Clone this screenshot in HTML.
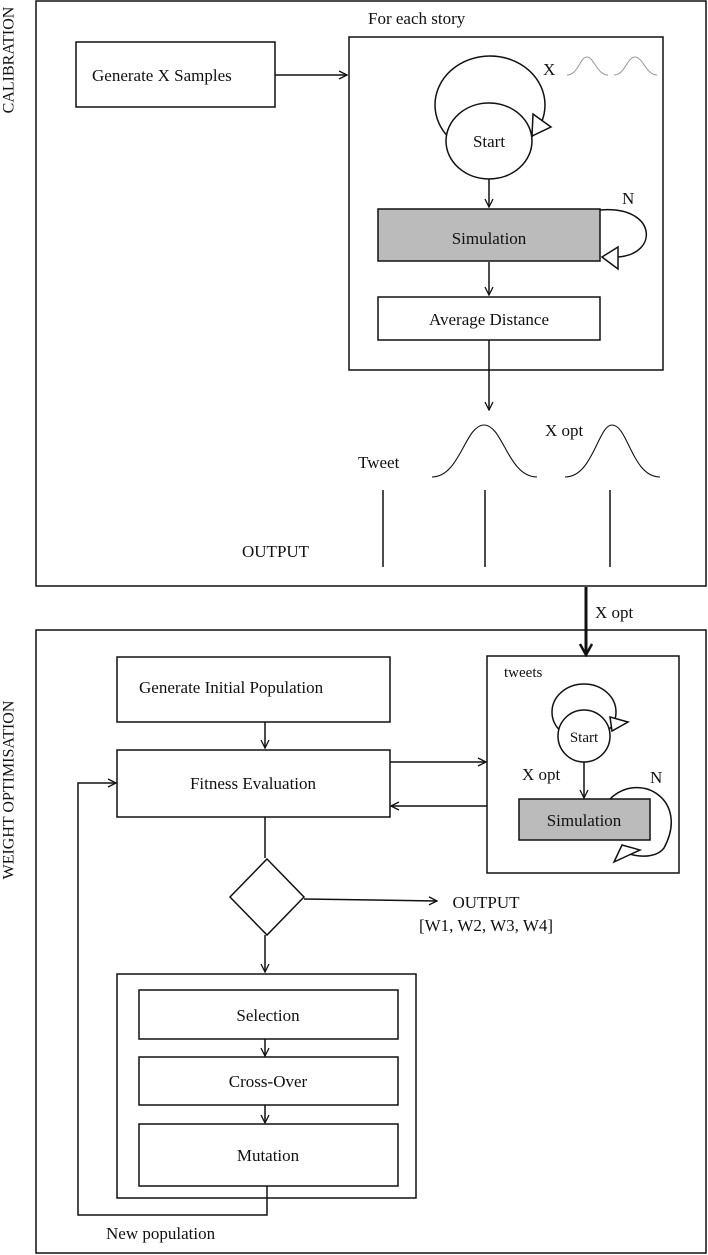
<!DOCTYPE html>
<html><head><meta charset="utf-8"><style>body{margin:0;background:#fff}svg{display:block}text{font-family:"Liberation Serif",serif;fill:#111}</style></head><body>
<svg width="708" height="1255" viewBox="0 0 708 1255" xmlns="http://www.w3.org/2000/svg">
<defs>
<marker id="a" markerWidth="10" markerHeight="10" refX="9" refY="5" orient="auto" markerUnits="userSpaceOnUse"><path d="M1,1 L9,5 L1,9" fill="none" stroke="#111" stroke-width="1.3"/></marker>
<marker id="b" markerWidth="14" markerHeight="14" refX="12" refY="7" orient="auto" markerUnits="userSpaceOnUse"><path d="M1,1 L12,7 L1,13" fill="none" stroke="#111" stroke-width="2.5"/></marker>
</defs>
<g fill="none" stroke="#111" stroke-width="1.5">
<rect x="36" y="1" width="670" height="585"/>
<rect x="36" y="630" width="670" height="623"/>
<rect x="76" y="42" width="199" height="65"/>
<line x1="275" y1="75" x2="347" y2="75" marker-end="url(#a)"/>
<rect x="349" y="37" width="314" height="333"/>
<ellipse cx="490" cy="105" rx="55" ry="49"/>
<ellipse cx="489" cy="141" rx="43" ry="38" fill="#fff"/>
<path d="M533,114 L551,127 L532,136 Z" fill="#fff"/>
<line x1="489" y1="179" x2="489" y2="207" marker-end="url(#a)"/>
<rect x="378" y="209" width="222" height="52" fill="#bbb"/>
<path d="M600,210 C660,205 660,260 610,257"/>
<path d="M602,257 L618,247 L618,269 Z" fill="#fff"/>
<line x1="489" y1="262" x2="489" y2="295" marker-end="url(#a)"/>
<rect x="378" y="297" width="222" height="43"/>
<line x1="489" y1="340" x2="489" y2="410" marker-end="url(#a)"/>
<path d="M432,477 C460,477 465,425 484,425 C503,425 508,477 537,477" stroke-width="1.1"/>
<path d="M565,477 C593,477 598,425 612,425 C628,425 632,477 660,477" stroke-width="1.1"/>
<line x1="383" y1="490" x2="383" y2="567"/>
<line x1="485" y1="490" x2="485" y2="567"/>
<line x1="610" y1="490" x2="610" y2="567"/>
<g stroke="#999" stroke-width="1"><path d="M567,75 C578,75 580,57 587,57 C594,57 597,75 608,75"/><path d="M614,75 C625,75 627,57 635,57 C643,57 646,75 657,75"/></g>
<line x1="586" y1="587" x2="586" y2="655" stroke-width="3" marker-end="url(#b)"/>
<rect x="117" y="657" width="273" height="65"/>
<line x1="265" y1="722" x2="265" y2="748" marker-end="url(#a)"/>
<rect x="117" y="750" width="273" height="67"/>
<rect x="487" y="656" width="192" height="217"/>
<line x1="390" y1="762" x2="486" y2="762" marker-end="url(#a)"/>
<line x1="487" y1="806" x2="391" y2="806" marker-end="url(#a)"/>
<ellipse cx="584" cy="712" rx="32" ry="28"/>
<ellipse cx="584" cy="736" rx="26" ry="26" fill="#fff"/>
<path d="M610,717 L628,722 L612,731 Z" fill="#fff"/>
<line x1="584" y1="762" x2="584" y2="798" marker-end="url(#a)"/>
<rect x="519" y="799" width="131" height="41" fill="#bbb"/>
<path d="M610,799 C640,770 690,800 664,848 C655,860 630,857 622,850"/>
<path d="M622,845 L640,850 L614,862 Z" fill="#fff"/>
<line x1="265" y1="817" x2="265" y2="858"/>
<polygon points="267,859 304,897 267,935 230,897"/>
<line x1="304" y1="899" x2="437" y2="901" marker-end="url(#a)"/>
<line x1="265" y1="935" x2="265" y2="972" marker-end="url(#a)"/>
<rect x="117" y="974" width="299" height="224"/>
<rect x="139" y="990" width="259" height="49"/>
<line x1="265" y1="1039" x2="265" y2="1056" marker-end="url(#a)"/>
<rect x="139" y="1057" width="259" height="48"/>
<line x1="265" y1="1105" x2="265" y2="1123" marker-end="url(#a)"/>
<rect x="139" y="1124" width="259" height="62"/>
<polyline points="267,1186 267,1215 78,1215 78,783 116,783" marker-end="url(#a)"/>
</g>
<g font-size="17">
<text x="10" y="60" transform="rotate(-90 10 60)" text-anchor="middle" dominant-baseline="middle" font-size="16">CALIBRATION</text>
<text x="10" y="790" transform="rotate(-90 10 790)" text-anchor="middle" dominant-baseline="middle" font-size="16">WEIGHT OPTIMISATION</text>
<text x="92" y="81">Generate X Samples</text>
<text x="368" y="24">For each story</text>
<text x="543" y="75">X</text>
<text x="489" y="147" text-anchor="middle">Start</text>
<text x="489" y="244" text-anchor="middle">Simulation</text>
<text x="622" y="204">N</text>
<text x="489" y="325" text-anchor="middle">Average Distance</text>
<text x="545" y="436">X opt</text>
<text x="358" y="468">Tweet</text>
<text x="242" y="557">OUTPUT</text>
<text x="595" y="618">X opt</text>
<text x="139" y="693">Generate Initial Population</text>
<text x="253" y="789" text-anchor="middle">Fitness Evaluation</text>
<text x="504" y="677" font-size="15">tweets</text>
<text x="584" y="742" text-anchor="middle" font-size="15">Start</text>
<text x="522" y="780">X opt</text>
<text x="584" y="826" text-anchor="middle">Simulation</text>
<text x="650" y="783">N</text>
<text x="486" y="908" text-anchor="middle">OUTPUT</text>
<text x="486" y="931" text-anchor="middle">[W1, W2, W3, W4]</text>
<text x="268" y="1021" text-anchor="middle">Selection</text>
<text x="268" y="1087" text-anchor="middle">Cross-Over</text>
<text x="268" y="1161" text-anchor="middle">Mutation</text>
<text x="106" y="1239">New population</text>
</g>
</svg>
</body></html>
